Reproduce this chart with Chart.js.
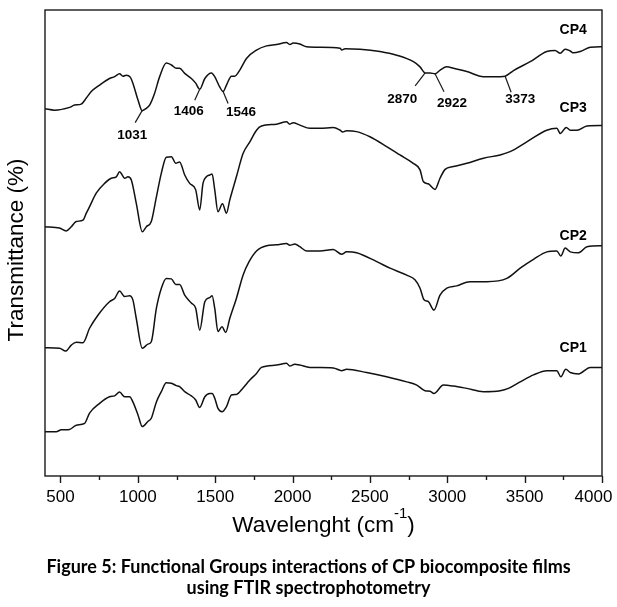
<!DOCTYPE html>
<html>
<head>
<meta charset="utf-8">
<title>FTIR CP biocomposite films</title>
<script src="https://cdn.jsdelivr.net/npm/chart.js@4.4.1/dist/chart.umd.min.js"></script>
<style>
html, body { margin: 0; padding: 0; background: #fff; }
canvas { display: block; }
</style>
</head>
<body>
<canvas id="ftirChart" width="617" height="607"></canvas>
<script>
// x axis ticks (cm-1)
const xMajorTicks = [500, 1000, 1500, 2000, 2500, 3000, 3500, 4000];
const xMinorTicks = [750, 1250, 1750, 2250, 2750, 3250, 3750];

const seriesNames = ["CP1", "CP2", "CP3", "CP4"];
const peakLabels = [1031, 1406, 1546, 2870, 2922, 3373];

// spectra (arbitrary offset transmittance)
const cp4Wave = [400,461,559,591,634,667,699,753,817,850,882,904,925,951,968,1001,1028,1055,1076,1108,
    1141,1184,1217,1249,1270,1303,1346,1374,1400,1433,1476,1497,1529,1551,1573,1605,1626,1659,1702,1767,
    1832,1896,1961,1982,2004,2047,2091,2177,2307,2318,2339,2436,2565,2673,2781,2824,2857,2889,2921,2954,
    2997,3040,3126,3234,3342,3374,3428,3536,3643,3697,3730,3762,3794,3816,3859,3924,3989,4000];
const cp4T = [78.8,78.5,79.1,79.6,79.8,81.1,82.5,83.9,85.3,85.7,86.3,85.8,86.0,85.6,84.3,80.7,78.4,78.9,79.6,82.1,
    85.7,88.6,88.2,87.5,87.5,86.4,85.3,84.3,83.0,85.3,86.5,85.7,83.5,82.5,83.9,85.8,85.8,87.1,89.6,91.4,
    92.3,92.6,93.0,92.6,92.9,92.7,92.1,92.0,91.8,91.4,91.7,91.6,91.1,90.3,88.9,87.8,86.5,86.5,86.3,87.1,
    87.8,87.5,86.8,85.7,85.7,85.8,87.0,88.9,91.1,91.3,90.7,91.6,91.2,90.8,91.1,92.0,92.1,92.1];

const cp3Wave = [400,494,537,570,602,645,667,688,731,785,828,861,882,915,936,958,990,1029,1055,1087,
    1120,1152,1184,1217,1245,1270,1303,1335,1374,1400,1421,1443,1465,1480,1497,1518,1547,1573,1594,1637,
    1680,1724,1767,1799,1896,1961,1982,2004,2047,2112,2177,2263,2307,2324,2349,2414,2500,2608,2694,2780,
    2824,2845,2877,2921,2953,2986,3039,3126,3234,3342,3406,3514,3643,3708,3730,3769,3795,3838,3903,3989,4000];
const cp3T = [53.5,53.2,52.6,53.5,54.6,54.9,56.4,57.8,60.7,62.8,63.9,64.2,65.3,63.9,64.2,63.5,58.5,52.4,53.5,54.6,
    59.9,65.0,68.4,68.5,67.1,67.4,64.6,62.8,61.4,57.1,62.8,64.2,64.6,64.8,61.4,56.7,58.4,56.4,59.2,64.2,
    69.2,71.7,74.2,75.1,75.5,76.0,75.5,75.8,75.3,74.6,74.6,74.8,74.2,73.8,74.1,73.9,72.8,70.7,68.9,67.1,
    65.7,63.2,62.7,61.5,63.9,65.8,66.4,67.1,68.2,68.9,69.6,71.7,74.2,74.6,73.5,74.8,74.2,74.2,75.1,75.2,75.2];

const cp2Wave = [400,494,533,570,602,645,688,742,817,850,882,915,947,968,990,1029,1065,1087,1120,1152,
    1184,1217,1245,1270,1303,1346,1374,1400,1433,1465,1480,1497,1518,1544,1568,1594,1637,1680,1719,1767,
    1832,1896,1961,1982,2015,2047,2091,2177,2263,2317,2349,2414,2544,2630,2738,2791,2824,2850,2878,2914,
    2953,2997,3061,3147,3255,3385,3471,3557,3644,3708,3734,3762,3795,3848,3903,3989,4000];
const cp2T = [27.5,27.4,26.8,28.1,28.7,28.6,31.7,34.5,37.4,38.1,39.7,38.5,38.7,37.8,33.8,27.4,28.3,28.8,36.0,40.3,
    42.4,42.3,41.1,41.1,38.8,37.1,36.0,31.3,37.4,38.3,38.7,36.0,31.0,32.0,30.8,33.8,38.1,43.1,46.0,48.3,
    49.4,49.6,49.9,49.5,49.8,49.2,48.3,48.3,48.6,47.6,48.1,47.9,46.0,44.6,43.1,42.1,40.3,37.8,37.4,35.6,
    38.8,40.3,40.8,41.7,41.7,42.4,44.6,46.5,48.1,48.3,47.2,48.9,48.1,47.9,49.2,49.4,49.4];

const cp1Wave = [400,472,505,559,602,656,688,753,817,850,882,915,947,968,1001,1029,1065,1087,1120,1152,
    1184,1217,1249,1270,1303,1346,1374,1400,1433,1465,1480,1497,1518,1544,1573,1605,1637,1680,1724,1767,
    1799,1896,1961,1982,2015,2047,2112,2263,2317,2349,2479,2608,2738,2803,2856,2889,2914,2975,3039,3126,
    3234,3342,3395,3471,3557,3644,3708,3734,3766,3795,3848,3924,3989,4000];
const cp1T = [9.5,9.5,9.9,10.0,10.9,11.3,13.5,15.6,17.0,17.2,18.0,17.0,17.0,15.9,13.1,10.6,11.7,12.4,15.9,18.1,
    20.0,19.9,19.4,19.2,18.1,17.2,16.3,14.7,17.0,17.7,17.7,16.7,14.5,13.8,14.9,17.4,17.5,18.9,20.6,22.0,
    23.3,23.8,24.2,23.6,24.0,23.8,23.3,23.2,22.6,22.9,22.2,21.3,20.2,19.5,18.3,18.2,17.7,19.5,19.3,18.8,
    18.1,18.3,18.8,20.2,21.7,22.6,22.6,21.3,22.9,22.2,21.9,23.3,23.3,23.3];

const spectra = [[cp1Wave, cp1T], [cp2Wave, cp2T], [cp3Wave, cp3T], [cp4Wave, cp4T]];

// where the annotations sit (pixels from the marked point: line end x,y then text x,y)
const peakOffsets = [[-7, 12, -10, 25], [-5, 11, -11, 22], [5, 12, 18, 21],
    [-10, 13, -23, 26], [9, 18, 17, 29], [6, 16, 15, 23]];
const nameLabelX = 3814;
const nameLabelY = [27.4, 51.4, 78.9, 95.6];

const axisFont = '"Liberation Sans", Arial, sans-serif';

const ftirDecor = {
    id: "ftirDecor",
    afterDraw(chart){
        const {ctx, chartArea: area, scales: {x, y}} = chart;
        ctx.save();

        // box round the plot
        ctx.strokeStyle = "#1a1a1a";
        ctx.lineWidth = 1.4;
        ctx.strokeRect(area.left, area.top, area.right - area.left, area.bottom - area.top);

        // outward ticks, long ones carry a label
        ctx.beginPath();
        x.ticks.forEach(t => {
            const px = Math.round(x.getPixelForValue(t.value)) + 0.5;
            const len = xMajorTicks.includes(t.value) ? 7 : 4;
            ctx.moveTo(px, area.bottom);
            ctx.lineTo(px, area.bottom + len);
        });
        ctx.stroke();

        ctx.fillStyle = "#000";

        // peak annotations on CP4
        ctx.lineWidth = 1.2;
        ctx.font = "bold 13.5px " + axisFont;
        ctx.textAlign = "center";
        ctx.textBaseline = "middle";
        peakLabels.forEach((wave, i) => {
            let best = 0;
            cp4Wave.forEach((w, k) => {
                if(Math.abs(w - wave) < Math.abs(cp4Wave[best] - wave)) best = k;
            });
            const px = x.getPixelForValue(cp4Wave[best]);
            const py = y.getPixelForValue(cp4T[best]);
            const [lx, ly, tx, ty] = peakOffsets[i];
            ctx.beginPath();
            ctx.moveTo(px, py);
            ctx.lineTo(px + lx, py + ly);
            ctx.stroke();
            ctx.fillText(String(wave), px + tx, py + ty);
        });

        // series names
        ctx.font = "bold 14px " + axisFont;
        seriesNames.forEach((name, i) => {
            ctx.fillText(name, x.getPixelForValue(nameLabelX), y.getPixelForValue(nameLabelY[i]));
        });

        // x title with superscript
        const main = "Wavelenght (cm", sup = "-1", close = ")";
        ctx.textAlign = "left";
        ctx.textBaseline = "alphabetic";
        ctx.font = "22.5px " + axisFont;
        const wMain = ctx.measureText(main).width;
        const wClose = ctx.measureText(close).width;
        ctx.font = "15px " + axisFont;
        const wSup = ctx.measureText(sup).width;
        let tx = (area.left + area.right) / 2 - (wMain + wSup + wClose) / 2;
        ctx.font = "22.5px " + axisFont;
        ctx.fillText(main, tx, 532);
        tx += wMain;
        ctx.font = "15px " + axisFont;
        ctx.fillText(sup, tx, 518);
        tx += wSup;
        ctx.font = "22.5px " + axisFont;
        ctx.fillText(close, tx, 532);

        // y title
        ctx.translate(22.5, 250);
        ctx.rotate(-Math.PI / 2);
        ctx.textAlign = "center";
        ctx.fillText("Transmittance (%)", 0, 0);

        ctx.restore();
    }
};

const ftirCtx = document.getElementById("ftirChart").getContext("2d");

const ftirChart = new Chart(ftirCtx, {
    type: "line",
    data: {
        datasets: spectra.map((s, i) => ({
            label: seriesNames[i],
            data: s[0].map((w, k) => ({x: w, y: s[1][k]})),
            borderColor: "#111",
            borderWidth: 1.5,
            pointRadius: 0,
            cubicInterpolationMode: "monotone",
            fill: false
        }))
    },
    options: {
        responsive: false,
        animation: false,
        layout: {
            padding: {top: 10, left: 0, right: 0, bottom: 8.2}
        },
        plugins: {
            legend: {display: false},
            tooltip: {enabled: false},
            title: {
                display: true,
                position: "bottom",
                text: ["Figure 5: Functional Groups interactions of CP biocomposite films",
                       "using FTIR spectrophotometry"],
                color: "#000",
                padding: 0,
                font: {family: "Lato", weight: "bold", size: 18, lineHeight: 1.167}
            }
        },
        scales: {
            x: {
                type: "linear",
                min: 400,
                max: 4000,
                grid: {display: false, drawTicks: false},
                border: {display: false},
                ticks: {
                    autoSkip: false,
                    maxRotation: 0,
                    padding: 11,
                    color: "#000",
                    font: {family: axisFont, size: 17},
                    // last label is pulled in so it stays inside the page
                    callback: v => {
                        if(!xMajorTicks.includes(v)) return "";
                        return v === 4000 ? v + "\u2002\u2002" : String(v);
                    }
                },
                afterBuildTicks: scale => {
                    scale.ticks = xMajorTicks.concat(xMinorTicks)
                        .sort((a, b) => a - b)
                        .map(v => ({value: v}));
                },
                afterFit: scale => {
                    scale.height = 80.8;
                    scale.paddingLeft = 0;
                    scale.paddingRight = 15;
                }
            },
            y: {
                min: 0,
                max: 100,
                grid: {display: false},
                border: {display: false},
                ticks: {display: false},
                afterFit: scale => {
                    scale.width = 45;
                }
            }
        }
    },
    plugins: [ftirDecor]
});
</script>
</body>
</html>
